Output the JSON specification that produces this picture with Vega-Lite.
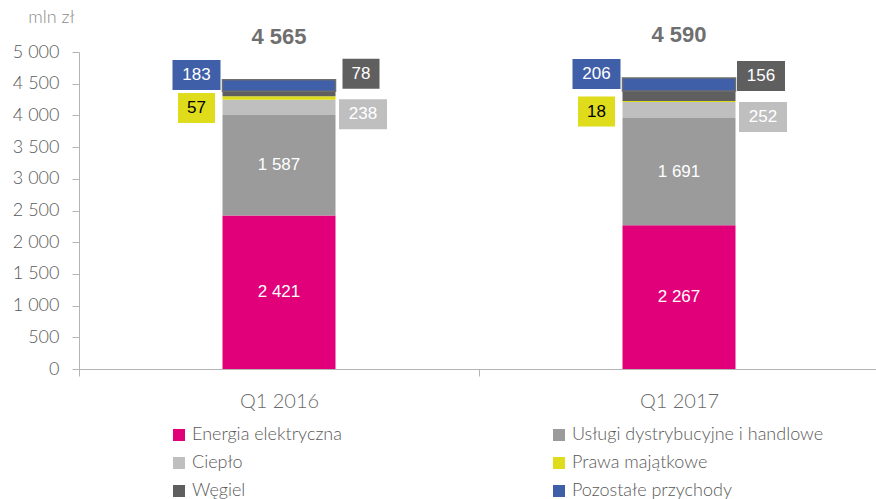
{
  "$schema": "https://vega.github.io/schema/vega-lite/v6.json",
  "width": 800,
  "height": 317,
  "autosize": "none",
  "padding": {"left": 79, "top": 52, "right": 0, "bottom": 130},
  "background": "white",
  "config": {
    "view": {"stroke": null},
    "font": "Lato",
    "axisX": {
      "labelAngle": 0, "tickBand": "extent",
      "domainColor": "#b4b4b4", "tickColor": "#b4b4b4", "tickSize": 7,
      "labelFontSize": 20, "labelColor": "#6b6b6b", "labelFont": "Lato",
      "labelFontWeight": 300, "labelPadding": 15
    },
    "axisY": {
      "titleAngle": 0, "titleX": -28, "titleY": -35,
      "titleAlign": "center", "titleBaseline": "middle",
      "titleFontSize": 18, "titleColor": "#8c8c8c", "titleFontWeight": 300, "titleFont": "Lato",
      "labelOverlap": false,
      "grid": false, "domainColor": "#b4b4b4", "tickColor": "#b4b4b4",
      "tickSize": 7, "labelPadding": 13, "labelFontSize": 18,
      "labelColor": "#595959", "labelFont": "Lato", "labelFontWeight": 300
    }
  },
  "datasets": {
    "seg": [
      {"q": "Q1 2016", "cat": "Energia elektryczna", "v": 2421},
      {"q": "Q1 2016", "cat": "Usługi dystrybucyjne i handlowe", "v": 1587},
      {"q": "Q1 2016", "cat": "Ciepło", "v": 238},
      {"q": "Q1 2016", "cat": "Prawa majątkowe", "v": 57},
      {"q": "Q1 2016", "cat": "Węgiel", "v": 78},
      {"q": "Q1 2016", "cat": "Pozostałe przychody", "v": 183},
      {"q": "Q1 2017", "cat": "Energia elektryczna", "v": 2267},
      {"q": "Q1 2017", "cat": "Usługi dystrybucyjne i handlowe", "v": 1691},
      {"q": "Q1 2017", "cat": "Ciepło", "v": 252},
      {"q": "Q1 2017", "cat": "Prawa majątkowe", "v": 18},
      {"q": "Q1 2017", "cat": "Węgiel", "v": 156},
      {"q": "Q1 2017", "cat": "Pozostałe przychody", "v": 206}
    ],
    "totals": [
      {"q": "Q1 2016", "total": 4565},
      {"q": "Q1 2017", "total": 4590}
    ]
  },
  "layer": [
    {
      "data": {"name": "seg"},
      "transform": [
        {"calculate": "indexof(['Energia elektryczna','Usługi dystrybucyjne i handlowe','Ciepło','Prawa majątkowe','Węgiel','Pozostałe przychody'], datum.cat)", "as": "k"},
        {"stack": "v", "groupby": ["q"], "sort": [{"field": "k", "order": "ascending"}], "as": ["y0", "y1"]},
        {"calculate": "(datum.y0 + datum.y1) / 2", "as": "ym"},
        {"calculate": "replace(format(datum.v, ','), ',', ' ')", "as": "lbl"}
      ],
      "layer": [
        {
          "mark": {"type": "bar", "width": {"band": 0.2825}, "stroke": "#6e6e6e"},
          "encoding": {
            "x": {
              "field": "q", "type": "nominal",
              "scale": {"paddingInner": 0, "paddingOuter": 0},
              "axis": {"title": null}
            },
            "y": {
              "field": "y0", "type": "quantitative",
              "scale": {"domain": [0, 5000], "nice": false},
              "axis": {"title": "mln zł", "values": [0, 500, 1000, 1500, 2000, 2500, 3000, 3500, 4000, 4500, 5000], "labelExpr": "replace(format(datum.value, ','), ',', ' ')"}
            },
            "y2": {"field": "y1"},
            "color": {
              "field": "cat", "type": "nominal",
              "scale": {
                "domain": ["Energia elektryczna", "Usługi dystrybucyjne i handlowe", "Ciepło", "Prawa majątkowe", "Węgiel", "Pozostałe przychody"],
                "range": ["#E2007A", "#9B9B9B", "#BFBFBF", "#DEDC1B", "#5F5F5F", "#3F5FA8"]
              },
              "legend": {
                "title": null, "orient": "none", "legendX": 91, "legendY": 374,
                "direction": "horizontal",
                "columns": 2, "symbolType": "square", "symbolSize": 144,
                "symbolStrokeWidth": 0, "labelFontSize": 18, "labelColor": "#595959",
                "labelFont": "Lato", "labelFontWeight": 300, "labelOffset": 4,
                "columnPadding": 208, "rowPadding": 10, "labelLimit": 400
              }
            },
            "strokeWidth": {"condition": {"test": "datum.cat === 'Pozostałe przychody'", "value": 1.5}, "value": 0}
          }
        },
        {
          "transform": [{"filter": "datum.k < 2"}],
          "mark": {"type": "text", "fontSize": 17, "font": "Liberation Sans", "color": "white", "align": "center", "baseline": "middle"},
          "encoding": {
            "x": {"field": "q", "type": "nominal", "axis": {"title": null}},
            "y": {"field": "ym", "type": "quantitative", "axis": {"title": "mln zł", "values": [0, 500, 1000, 1500, 2000, 2500, 3000, 3500, 4000, 4500, 5000], "labelExpr": "replace(format(datum.value, ','), ',', ' ')"}},
            "text": {"field": "lbl"}
          }
        },
        {
          "transform": [{"filter": "datum.cat === 'Pozostałe przychody'"}],
          "layer": [
            {
              "mark": {"type": "point", "filled": true, "opacity": 1, "size": 900, "strokeWidth": 0, "shape": "M-7.1,-1.7H-3.9V0.3H-7.1Z"},
              "encoding": {
                "x": {"field": "q", "type": "nominal", "axis": {"title": null}},
                "y": {"field": "ym", "type": "quantitative", "axis": {"title": "mln zł", "values": [0, 500, 1000, 1500, 2000, 2500, 3000, 3500, 4000, 4500, 5000], "labelExpr": "replace(format(datum.value, ','), ',', ' ')"}},
                "color": {"field": "cat", "type": "nominal", "legend": null}
              }
            },
            {
              "mark": {"type": "text", "fontSize": 17, "font": "Liberation Sans", "color": "white", "align": "center", "baseline": "middle", "dx": -82.5, "dy": -10.5},
              "encoding": {
                "x": {"field": "q", "type": "nominal", "axis": {"title": null}},
                "y": {"field": "ym", "type": "quantitative", "axis": {"title": "mln zł", "values": [0, 500, 1000, 1500, 2000, 2500, 3000, 3500, 4000, 4500, 5000], "labelExpr": "replace(format(datum.value, ','), ',', ' ')"}},
                "text": {"field": "lbl"}
              }
            }
          ]
        },
        {
          "transform": [{"filter": "datum.cat === 'Prawa majątkowe'"}],
          "layer": [
            {
              "mark": {"type": "point", "filled": true, "opacity": 1, "size": 900, "strokeWidth": 0, "shape": "M-6.733,-0.333H-4.267V1.667H-6.733Z"},
              "encoding": {
                "x": {"field": "q", "type": "nominal", "axis": {"title": null}},
                "y": {"field": "ym", "type": "quantitative", "axis": {"title": "mln zł", "values": [0, 500, 1000, 1500, 2000, 2500, 3000, 3500, 4000, 4500, 5000], "labelExpr": "replace(format(datum.value, ','), ',', ' ')"}},
                "color": {"field": "cat", "type": "nominal", "legend": null}
              }
            },
            {
              "mark": {"type": "text", "fontSize": 17, "font": "Liberation Sans", "color": "black", "align": "center", "baseline": "middle", "dx": -82.5, "dy": 10},
              "encoding": {
                "x": {"field": "q", "type": "nominal", "axis": {"title": null}},
                "y": {"field": "ym", "type": "quantitative", "axis": {"title": "mln zł", "values": [0, 500, 1000, 1500, 2000, 2500, 3000, 3500, 4000, 4500, 5000], "labelExpr": "replace(format(datum.value, ','), ',', ' ')"}},
                "text": {"field": "lbl"}
              }
            }
          ]
        },
        {
          "transform": [{"filter": "datum.cat === 'Węgiel'"}],
          "layer": [
            {
              "mark": {"type": "point", "filled": true, "opacity": 1, "size": 900, "strokeWidth": 0},
              "encoding": {
                "x": {"field": "q", "type": "nominal", "axis": {"title": null}},
                "y": {"field": "ym", "type": "quantitative", "axis": {"title": "mln zł", "values": [0, 500, 1000, 1500, 2000, 2500, 3000, 3500, 4000, 4500, 5000], "labelExpr": "replace(format(datum.value, ','), ',', ' ')"}},
                "color": {"field": "cat", "type": "nominal", "legend": null},
                "shape": {"condition": {"test": "datum.v < 100", "value": "M4.233,-2.333H6.7V-0.333H4.233Z"}, "value": "M3.867,-2.333H7.067V-0.333H3.867Z"}
              }
            },
            {
              "mark": {"type": "text", "fontSize": 17, "font": "Liberation Sans", "color": "white", "align": "center", "baseline": "middle", "dx": 82, "dy": -20},
              "encoding": {
                "x": {"field": "q", "type": "nominal", "axis": {"title": null}},
                "y": {"field": "ym", "type": "quantitative", "axis": {"title": "mln zł", "values": [0, 500, 1000, 1500, 2000, 2500, 3000, 3500, 4000, 4500, 5000], "labelExpr": "replace(format(datum.value, ','), ',', ' ')"}},
                "text": {"field": "lbl"}
              }
            }
          ]
        },
        {
          "transform": [{"filter": "datum.cat === 'Ciepło'"}],
          "layer": [
            {
              "mark": {"type": "point", "filled": true, "opacity": 1, "size": 900, "strokeWidth": 0, "shape": "M4.0,-0.533H7.2V1.467H4.0Z"},
              "encoding": {
                "x": {"field": "q", "type": "nominal", "axis": {"title": null}},
                "y": {"field": "ym", "type": "quantitative", "axis": {"title": "mln zł", "values": [0, 500, 1000, 1500, 2000, 2500, 3000, 3500, 4000, 4500, 5000], "labelExpr": "replace(format(datum.value, ','), ',', ' ')"}},
                "color": {"field": "cat", "type": "nominal", "legend": null}
              }
            },
            {
              "mark": {"type": "text", "fontSize": 17, "font": "Liberation Sans", "color": "white", "align": "center", "baseline": "middle", "dx": 84, "dy": 7},
              "encoding": {
                "x": {"field": "q", "type": "nominal", "axis": {"title": null}},
                "y": {"field": "ym", "type": "quantitative", "axis": {"title": "mln zł", "values": [0, 500, 1000, 1500, 2000, 2500, 3000, 3500, 4000, 4500, 5000], "labelExpr": "replace(format(datum.value, ','), ',', ' ')"}},
                "text": {"field": "lbl"}
              }
            }
          ]
        }
      ]
    },
    {
      "data": {"name": "totals"},
      "transform": [{"calculate": "replace(format(datum.total, ','), ',', ' ')", "as": "lbl"}],
      "mark": {"type": "text", "fontSize": 22, "fontWeight": "bold", "font": "Liberation Sans", "color": "#6f6f6f", "align": "center", "baseline": "middle", "dy": -43},
      "encoding": {
        "x": {"field": "q", "type": "nominal", "axis": {"title": null}},
        "y": {"field": "total", "type": "quantitative", "axis": {"title": "mln zł", "values": [0, 500, 1000, 1500, 2000, 2500, 3000, 3500, 4000, 4500, 5000], "labelExpr": "replace(format(datum.value, ','), ',', ' ')"}},
        "text": {"field": "lbl"}
      }
    }
  ]
}
